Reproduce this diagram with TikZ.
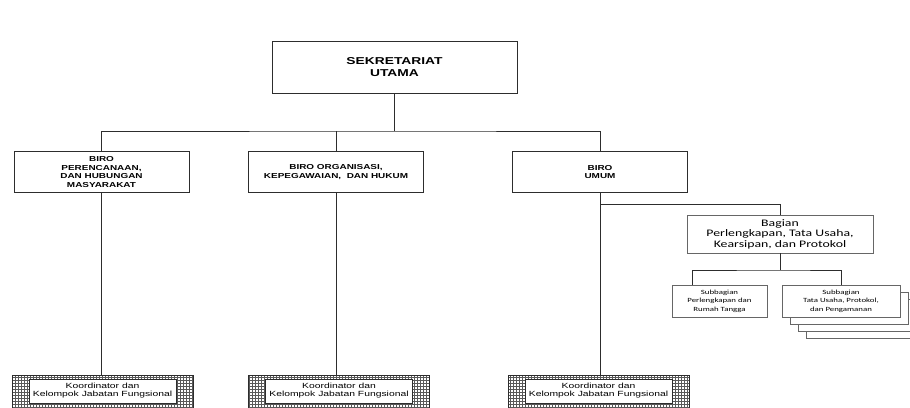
\documentclass[tikz,border=0pt]{standalone}
\usepackage{fontspec}
\setmainfont{Liberation Sans}
\newfontfamily\birofont[FakeStretch=1.38]{Liberation Sans}
\newfontfamily\bagfont[FakeStretch=1.38]{Carlito}
\usetikzlibrary{positioning, patterns}
\definecolor{orgline}{RGB}{45,45,45}

\begin{document}
\begin{tikzpicture}[x=1pt, y=-1pt,
      box/.style={rectangle, draw=orgline, line width=0.9pt, fill=white, inner sep=0pt, align=center},
      topbox/.style={box, minimum width=245pt, minimum height=52pt,
                  font=\birofont\bfseries\fontsize{10}{12.5}\selectfont},
      birobox/.style={box, minimum width=175pt, minimum height=41pt,
                  font=\birofont\bfseries\fontsize{7.2}{8.4}\selectfont},
      bagbox/.style={box, draw=black!60, minimum width=186pt, minimum height=38pt,
                  font=\bagfont\fontsize{10}{10.5}\selectfont},
      subbox/.style={box, draw=black!60, minimum height=32pt,
                  font=\bagfont\fontsize{6.4}{8.5}\selectfont},
      kjfbox/.style={rectangle, draw=orgline, line width=0.8pt, pattern=grid, pattern color=black!65,
                  minimum width=181pt, minimum height=40pt, inner sep=0pt},
      kjftext/.style={box, line width=0.6pt, minimum width=147pt, minimum height=24pt,
                  font=\birofont\fontsize{7.5}{8}\selectfont},
      conn/.style={draw=orgline, line width=0.9pt}]
    \useasboundingbox (0,0) rectangle (910,407);
    \clip (0,0) rectangle (910,407);
    \node[topbox] (sekut) at (394.5,67) {SEKRETARIAT\\UTAMA};
    \node[birobox] (biro1) at (101.5,172) {BIRO\\PERENCANAAN,\\DAN HUBUNGAN\\MASYARAKAT};
    \node[birobox] (biro2) at (336,172) {BIRO ORGANISASI,\\KEPEGAWAIAN,\ \ DAN HUKUM};
    \node[birobox] (biro3) at (600,172) {BIRO\\UMUM};
    \node[bagbox] (bagian) at (780,234) {Bagian\\Perlengkapan, Tata Usaha,\\Kearsipan, dan Protokol};
    \node[subbox, minimum width=95pt] (sub1) at (719.5,301) {Subbagian\\Perlengkapan dan\\Rumah Tangga};
    \foreach \d in {3,2,1}
      \node[subbox, minimum width=118pt] (sub2s\d) at (841+8*\d,301+7*\d) {};
    \node[subbox, minimum width=118pt] (sub2) at (841,301) {Subbagian\\Tata Usaha, Protokol,\\dan Pengamanan};
    \foreach \i/\x in {1/102.5, 2/339, 3/598.5} {
      \node[kjfbox] (kjf\i) at (\x,395) {};
      \node[kjftext, below=4pt of kjf\i.north] (kjf\i txt) {Koordinator dan\\Kelompok Jabatan Fungsional};
    }
    \coordinate (bus) at (394.5,131);
    \draw[conn] (sekut.south) -- (bus);
    \draw[conn] (biro1.north) |- (bus) -| (biro3.north);
    \draw[conn] (biro2.north) -- (biro2.north |- bus);
    \foreach \i in {1,2,3}
      \draw[conn] (biro\i.south) -- (biro\i.south |- kjf\i.north);
    \coordinate (umumjoint) at (600,204);
    \draw[conn] (umumjoint) -| (bagian.north);
    \coordinate (bagjoint) at (780,270);
    \draw[conn] (bagian.south) -- (bagjoint);
    \draw[conn] ([xshift=21pt]sub1.north west) |- (bagjoint) -| (sub2.north);
  \end{tikzpicture}
\end{document}
